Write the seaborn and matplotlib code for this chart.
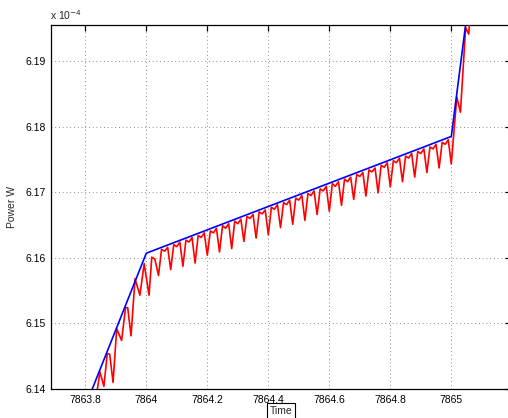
import numpy as np
import pandas as pd
import matplotlib
matplotlib.use("Agg")
import matplotlib.pyplot as plt
import seaborn as sns

# ---------------- data (power in units of 1e-4 W) ----------------
blue_t = [7863.78, 7864.0, 7865.0, 7865.08]
blue_v = [6.1350, 6.1607, 6.1785, 6.2075]

red_left_t = [7863.835, 7863.848, 7863.861, 7863.872, 7863.880, 7863.891,
              7863.903, 7863.919, 7863.932, 7863.939, 7863.950, 7863.963,
              7863.979, 7863.993, 7864.009, 7864.018, 7864.028]
red_left_v = [6.1385, 6.1426, 6.1404, 6.1454, 6.1453, 6.1410,
              6.1492, 6.1474, 6.1524, 6.1524, 6.1481, 6.1568,
              6.1543, 6.1591, 6.1543, 6.1601, 6.1598]

# samples every 0.01 starting at 7864.04 (dip, high, mid, high ...)
red_mid_start = 7864.04
red_mid_step = 0.01
red_mid_v = [
    6.1573, 6.1613, 6.1610, 6.1616,
    6.1582, 6.1620, 6.1617, 6.1624,
    6.1587, 6.1627, 6.1624, 6.1631,
    6.1592, 6.1634, 6.1631, 6.1638,
    6.1604, 6.1641, 6.1638, 6.1645,
    6.1609, 6.1649, 6.1645, 6.1652,
    6.1614, 6.1656, 6.1652, 6.1659,
    6.1625, 6.1663, 6.1660, 6.1666,
    6.1630, 6.1670, 6.1667, 6.1673,
    6.1635, 6.1677, 6.1674, 6.1681,
    6.1646, 6.1684, 6.1681, 6.1688,
    6.1651, 6.1691, 6.1688, 6.1695,
    6.1657, 6.1698, 6.1695, 6.1702,
    6.1666, 6.1705, 6.1702, 6.1709,
    6.1671, 6.1713, 6.1709, 6.1716,
    6.1680, 6.1720, 6.1716, 6.1723,
    6.1689, 6.1727, 6.1724, 6.1730,
    6.1694, 6.1734, 6.1731, 6.1737,
    6.1699, 6.1741, 6.1738, 6.1745,
    6.1708, 6.1748, 6.1745, 6.1752,
    6.1716, 6.1755, 6.1752, 6.1759,
    6.1723, 6.1762, 6.1759, 6.1766,
    6.1730, 6.1769, 6.1766, 6.1773,
    6.1737, 6.1776, 6.1773, 6.1780,
    6.1743,
]

red_right_t = [7865.018, 7865.030, 7865.047, 7865.057, 7865.066]
red_right_v = [6.1845, 6.1822, 6.1951, 6.1941, 6.1995]

x_ticks = [7863.8, 7864.0, 7864.2, 7864.4, 7864.6, 7864.8, 7865.0]
x_tick_labels = ["7863.8", "7864", "7864.2", "7864.4", "7864.6", "7864.8", "7865"]
y_ticks = [6.14, 6.15, 6.16, 6.17, 6.18, 6.19]
y_tick_labels = ["6.14", "6.15", "6.16", "6.17", "6.18", "6.19"]

# ---------------- assemble ----------------
red_mid_t = [round(red_mid_start + red_mid_step * i, 4) for i in range(len(red_mid_v))]
red_df = pd.DataFrame({"t": red_left_t + red_mid_t + red_right_t,
                       "v": red_left_v + red_mid_v + red_right_v})
blue_df = pd.DataFrame({"t": blue_t, "v": blue_v})

sns.set_style("white")
plt.rcParams["font.family"] = ["Liberation Sans", "DejaVu Sans"]

W, H = 508, 418
fig = plt.figure(figsize=(W / 100, H / 100), dpi=100)
left, right, top, bottom = 51, 511, 25, 389
ax = fig.add_axes([left / W, (H - bottom) / H, (right - left) / W, (bottom - top) / H])

sns.lineplot(data=red_df, x="t", y="v", ax=ax, color="red", lw=1.2,
             sort=False, estimator=None, zorder=3)
sns.lineplot(data=blue_df, x="t", y="v", ax=ax, color="blue", lw=1.2,
             sort=False, estimator=None, zorder=4)

x0 = 7864.0 - (146.3 - left) / 305.0
x1 = 7864.0 + (right - 146.3) / 305.0
ax.set_xlim(x0, x1)
ax.set_ylim(6.14, 6.14 + (bottom - top) / 6560.0)

ax.set_xticks(x_ticks)
ax.set_xticklabels(x_tick_labels)
ax.set_yticks(y_ticks)
ax.set_yticklabels(y_tick_labels)
ax.tick_params(axis="both", direction="in", length=4, width=0.9, labelsize=7.5,
               top=True, right=True, colors="black", pad=4)
for s in ax.spines.values():
    s.set_visible(True)
    s.set_color("black")
    s.set_linewidth(0.9)

ax.grid(True, color="#666666", linestyle=(0, (1, 3.5)), linewidth=0.6)
ax.set_axisbelow(True)

ax.set_xlabel("")
ax.set_ylabel("Power W", fontsize=7.5, labelpad=6)

fig.text(50 / W, 1 - 20 / H, r"x 10$^{-4}$", fontsize=7.5, ha="left", va="baseline")
fig.text(281 / W, 1 - 411 / H, "Time", fontsize=7.5, ha="center", va="center",
         bbox=dict(boxstyle="square,pad=0.25", fc="white", ec="black", lw=0.8))

fig.savefig("out.png", dpi=100)
